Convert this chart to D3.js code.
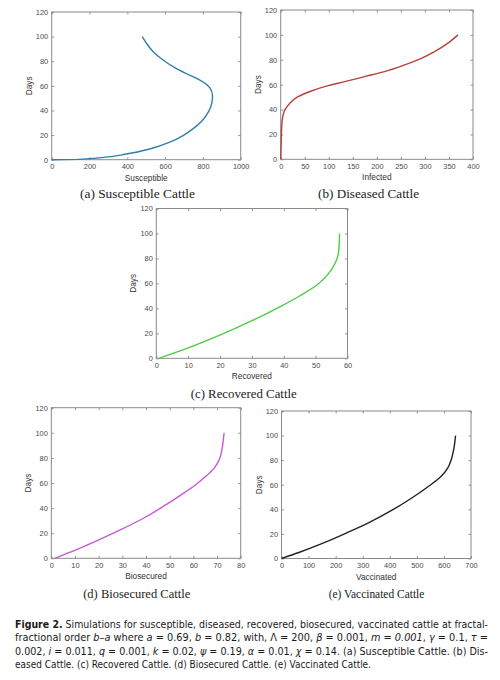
<!DOCTYPE html>
<html>
<head>
<meta charset="utf-8">
<script src="https://cdn.jsdelivr.net/npm/d3@7"></script>
<style>
  body { margin: 0; background: #fff; }
  svg { display: block; }
</style>
</head>
<body>
<div id="chart"></div>
<script>
// Values (x value, day)
var susceptibleX    = [0, 133, 274, 396, 519, 625, 695, 747, 795, 830, 848, 851, 836, 791, 730, 660, 589, 537, 502, 479];
var susceptibleDays = [0, 0.3, 1.9, 4.6, 8.7, 14.2, 19.6, 25, 31.5, 39, 46.5, 52, 58.5, 64, 68.7, 74, 81, 87.7, 94.5, 100];

var infectedX    = [0, 0.7, 1.4, 2.8, 4.9, 8.3, 18.7, 36, 63.8, 98.4, 133, 174.7, 216, 258, 292.5, 320, 348, 368.8];
var infectedDays = [0, 8.6, 19.4, 30.1, 35.5, 39.5, 44.9, 50.3, 54.9, 59.2, 62.4, 66.5, 70.5, 75.9, 81.2, 86.6, 93.4, 100];

var recoveredX    = [0.8, 9.8, 20.3, 29.7, 39.2, 45.5, 50.7, 53.9, 56, 57, 57.4, 57.5];
var recoveredDays = [0, 8.1, 18.9, 29.7, 41.8, 50.7, 59.3, 67.4, 75.5, 82.3, 91.7, 100];

var biosecuredX    = [1.5, 10.6, 20.3, 30, 39.7, 48.1, 55, 60.6, 65.4, 68.9, 71, 72.1, 72.6, 73];
var biosecuredDays = [0, 6.9, 14.9, 23.4, 32.7, 42.3, 50.8, 58, 65.5, 72.1, 78.8, 86.8, 93.4, 100];

var vaccinatedX    = [0, 64, 151, 237, 323, 410, 484, 546, 589, 614, 627, 636, 643];
var vaccinatedDays = [0, 4.9, 12.3, 20.5, 29.2, 39.5, 49.6, 59.2, 66.8, 73.6, 80.4, 88.6, 100];

var dayTicks = [0, 20, 40, 60, 80, 100, 120];
var susceptibleTicks = [0, 200, 400, 600, 800, 1000];
var infectedTicks = [0, 50, 100, 150, 200, 250, 300, 350, 400];
var recoveredTicks = [0, 10, 20, 30, 40, 50, 60];
var biosecuredTicks = [0, 10, 20, 30, 40, 50, 60, 70, 80];
var vaccinatedTicks = [0, 100, 200, 300, 400, 500, 600, 700];

var svg = d3.select("#chart").append("svg")
  .attr("width", 500)
  .attr("height", 680);

function drawPanel(p) {
  var x = d3.scaleLinear().domain([0, p.xTicks[p.xTicks.length - 1]]).range([p.left, p.right]);
  var y = d3.scaleLinear().domain([0, 120]).range([p.bottom, p.top]);
  var g = svg.append("g");

  // axes, ticks pointing inwards on all four sides
  var tickStyle = function(sel) {
    sel.select(".domain").remove();
    sel.selectAll("line").attr("stroke", "#777").attr("stroke-width", 0.8);
    sel.selectAll("text").attr("fill", "#4a4a4a").style("font-family", "Liberation Sans, Arial, sans-serif").style("font-size", "7.4px");
  };
  g.append("g").attr("transform", "translate(0," + p.bottom + ")")
    .call(d3.axisBottom(x).tickValues(p.xTicks).tickSize(-2.5).tickPadding(4.5).tickFormat(d3.format("d")))
    .call(tickStyle);
  g.append("g").attr("transform", "translate(0," + p.top + ")")
    .call(d3.axisTop(x).tickValues(p.xTicks).tickSize(-2.5).tickFormat(""))
    .call(tickStyle);
  g.append("g").attr("transform", "translate(" + p.left + ",0)")
    .call(d3.axisLeft(y).tickValues(dayTicks).tickSize(-2.5).tickPadding(3.5))
    .call(tickStyle);
  g.append("g").attr("transform", "translate(" + p.right + ",0)")
    .call(d3.axisRight(y).tickValues(dayTicks).tickSize(-2.5).tickFormat(""))
    .call(tickStyle);

  g.append("rect")
    .attr("x", p.left).attr("y", p.top)
    .attr("width", p.right - p.left).attr("height", p.bottom - p.top)
    .attr("fill", "none").attr("stroke", "#8a8a8a").attr("stroke-width", 1);

  var pts = p.xs.map(function(v, i) { return [v, p.days[i]]; });
  // days rise monotonically, so a monotone curve in y keeps it smooth
  var line = d3.line()
    .x(function(d) { return x(d[0]); })
    .y(function(d) { return y(d[1]); })
    .curve(d3.curveMonotoneY);
  g.append("path").datum(pts)
    .attr("d", line)
    .attr("fill", "none")
    .attr("stroke", p.color)
    .attr("stroke-width", 1.4);

  g.append("text")
    .attr("x", (p.left + p.right) / 2).attr("y", p.bottom + 21)
    .attr("text-anchor", "middle")
    .attr("fill", "#333")
    .style("font-family", "Liberation Sans, Arial, sans-serif")
    .style("font-size", "8.3px")
    .text(p.xLabel);

  g.append("text")
    .attr("transform", "translate(" + (p.left - 20) + "," + ((p.top + p.bottom) / 2) + ") rotate(-90)")
    .attr("text-anchor", "middle")
    .attr("fill", "#333")
    .style("font-family", "Liberation Sans, Arial, sans-serif")
    .style("font-size", "8.3px")
    .text("Days");

  g.append("text")
    .attr("x", p.capX).attr("y", p.capY)
    .attr("text-anchor", "middle")
    .attr("fill", "#222")
    .attr("textLength", p.capW)
    .attr("lengthAdjust", "spacingAndGlyphs")
    .style("font-family", "Liberation Serif, Times New Roman, serif")
    .style("font-size", "12px")
    .text(p.caption);
}

drawPanel({ left: 51.7, right: 240.7, top: 12, bottom: 159.7, xs: susceptibleX, days: susceptibleDays,
  xTicks: susceptibleTicks, xLabel: "Susceptible", color: "#2f7fa9",
  caption: "(a) Susceptible Cattle", capX: 137.5, capY: 198, capW: 115 });
drawPanel({ left: 280.7, right: 473, top: 10, bottom: 159.3, xs: infectedX, days: infectedDays,
  xTicks: infectedTicks, xLabel: "Infected", color: "#b8403c",
  caption: "(b) Diseased Cattle", capX: 368.5, capY: 198, capW: 101 });
drawPanel({ left: 156.3, right: 347.5, top: 208.5, bottom: 358.3, xs: recoveredX, days: recoveredDays,
  xTicks: recoveredTicks, xLabel: "Recovered", color: "#4ccc46",
  caption: "(c) Recovered Cattle", capX: 243.7, capY: 397.5, capW: 106 });
drawPanel({ left: 51.3, right: 240.7, top: 407.7, bottom: 558.3, xs: biosecuredX, days: biosecuredDays,
  xTicks: biosecuredTicks, xLabel: "Biosecured", color: "#c65ad2",
  caption: "(d) Biosecured Cattle", capX: 136.7, capY: 598, capW: 107 });
drawPanel({ left: 281.5, right: 471, top: 411, bottom: 558.5, xs: vaccinatedX, days: vaccinatedDays,
  xTicks: vaccinatedTicks, xLabel: "Vaccinated", color: "#222222",
  caption: "(e) Vaccinated Cattle", capX: 376.5, capY: 598, capW: 95.7 });

// figure caption: each line is a list of [text, style] pieces
var captionLines = [
  [["Figure 2.", "b"], [" Simulations for susceptible, diseased, recovered, biosecured, vaccinated cattle at fractal-", ""]],
  [["fractional order ", ""], ["b", "i"], ["\u2013", ""], ["a", "i"], [" where ", ""], ["a", "i"], [" = 0.69, ", ""], ["b", "i"], [" = 0.82, with, \u039B = 200, ", ""], ["\u03B2", "i"], [" = 0.001, ", ""], ["m", "i"], [" = ", ""], ["0.001", "i"], [", ", ""], ["\u03B3", "i"], [" = 0.1, ", ""], ["\u03C4", "i"], [" =", ""]],
  [["0.002, ", ""], ["i", "i"], [" = 0.011, ", ""], ["q", "i"], [" = 0.001, ", ""], ["k", "i"], [" = 0.02, ", ""], ["\u03C8", "i"], [" = 0.19, ", ""], ["\u03B1", "i"], [" = 0.01, ", ""], ["\u03C7", "i"], [" = 0.14. (a) Susceptible Cattle. (b) Dis-", ""]],
  [["eased Cattle. (c) Recovered Cattle. (d) Biosecured Cattle. (e) Vaccinated Cattle.", ""]]
];
var captionWidths = [473, 473, 473, 356];

captionLines.forEach(function(parts, i) {
  var fs = 12.3;
  var t = svg.append("text")
    .attr("x", 15).attr("y", 628 + i * 13.4)
    .attr("fill", "#1a1a1a")
    .style("font-family", "Liberation Sans Narrow, DejaVu Sans Condensed, Roboto, sans-serif")
    .style("font-size", fs + "px");
  parts.forEach(function(pc) {
    t.append("tspan")
      .style("font-weight", pc[1] === "b" ? "bold" : "normal")
      .style("font-style", pc[1] === "i" ? "italic" : "normal")
      .text(pc[0]);
  });
  // shrink to fit, then justify with word spacing
  var w = t.node().getComputedTextLength();
  if (w > captionWidths[i]) {
    fs = fs * captionWidths[i] / w;
    t.style("font-size", fs + "px");
    w = t.node().getComputedTextLength();
  }
  if (i < 3) {
    var spaces = parts.map(function(pc) { return pc[0]; }).join("").split(" ").length - 1;
    t.style("word-spacing", ((captionWidths[i] - w) / spaces) + "px");
  }
});
</script>
</body>
</html>
